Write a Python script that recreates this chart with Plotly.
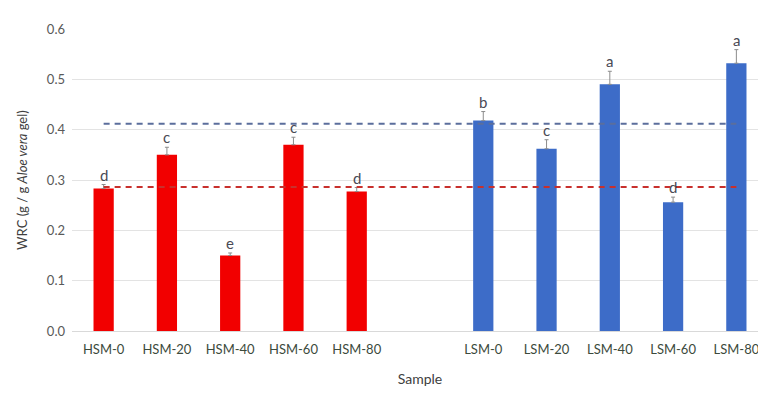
import plotly.graph_objects as go

categories = ["HSM-0", "HSM-20", "HSM-40", "HSM-60", "HSM-80", " ",
              "LSM-0", "LSM-20", "LSM-40", "LSM-60", "LSM-80"]
hsm_samples = ["HSM-0", "HSM-20", "HSM-40", "HSM-60", "HSM-80"]
hsm_values = [0.283, 0.350, 0.150, 0.370, 0.277]
hsm_errors = [0.008, 0.015, 0.005, 0.015, 0.008]
hsm_letters = ["d", "c", "e", "c", "d"]
lsm_samples = ["LSM-0", "LSM-20", "LSM-40", "LSM-60", "LSM-80"]
lsm_values = [0.418, 0.362, 0.490, 0.256, 0.532]
lsm_errors = [0.018, 0.018, 0.026, 0.010, 0.027]
lsm_letters = ["b", "c", "a", "d", "a"]
ref_blue = 0.412
ref_red = 0.286
y_ticks = [0.0, 0.1, 0.2, 0.3, 0.4, 0.5, 0.6]

FONT = "Lato, 'Open Sans', sans-serif"
fig = go.Figure()

fig.add_trace(go.Bar(
    x=hsm_samples, y=hsm_values, width=0.32,
    marker=dict(color="#f20000", line=dict(width=0)),
    error_y=dict(type="data", array=hsm_errors, symmetric=False, arrayminus=[0]*5,
                 color="#8c8c8c", thickness=1, width=2),
    showlegend=False))
fig.add_trace(go.Bar(
    x=lsm_samples, y=lsm_values, width=0.32,
    marker=dict(color="#3d6cc8", line=dict(width=0)),
    error_y=dict(type="data", array=lsm_errors, symmetric=False, arrayminus=[0]*5,
                 color="#8c8c8c", thickness=1, width=2),
    showlegend=False))

# reference dashed lines
fig.add_trace(go.Scatter(x=["HSM-0", "LSM-80"], y=[ref_blue, ref_blue], mode="lines",
                         line=dict(color="#5b6e9c", width=2, dash="6px,5px"), showlegend=False))
fig.add_trace(go.Scatter(x=["HSM-0", "LSM-80"], y=[ref_red, ref_red], mode="lines",
                         line=dict(color="#c8302c", width=2, dash="6px,5px"), showlegend=False))

# significance letters
for s, v, e, l in zip(hsm_samples + lsm_samples, hsm_values + lsm_values,
                      hsm_errors + lsm_errors, hsm_letters + lsm_letters):
    fig.add_annotation(x=s, y=v + e, text=l, showarrow=False, yanchor="bottom", yshift=-1,
                       font=dict(family=FONT, size=15, color="#4a4a55"))

# y-axis title placed in paper space
fig.add_annotation(xref="paper", yref="paper", x=-0.072, y=0.5, xanchor="center",
                   yanchor="middle", textangle=-90, showarrow=False,
                   text="WRC (g / g <i>Aloe vera</i> gel)",
                   font=dict(family=FONT, size=13, color="#404040"))

fig.update_layout(
    width=766, height=398,
    margin=dict(l=64, r=6, t=21, b=75),
    plot_bgcolor="white", paper_bgcolor="white",
    barmode="overlay",
    font=dict(family=FONT, color="#595959"),
    xaxis=dict(type="category", categoryorder="array", categoryarray=categories,
               range=[-0.5, 10.5], showgrid=False, showline=True, linecolor="#d9d9d9",
               linewidth=1, ticks="", automargin=False, ticklabelstandoff=6,
               tickfont=dict(size=13, color="#3c4a3c"),
               title=dict(text="Sample", font=dict(size=14, color="#404040"), standoff=18)),
    yaxis=dict(range=[0, 0.6], tickvals=y_ticks, tickformat=".1f", showgrid=True,
               gridcolor="#e3e3e3", gridwidth=1, zeroline=False, ticks="", automargin=False,
               tickfont=dict(size=13, color="#595959"), ticklabelstandoff=6),
)

fig.write_html("out.html")
